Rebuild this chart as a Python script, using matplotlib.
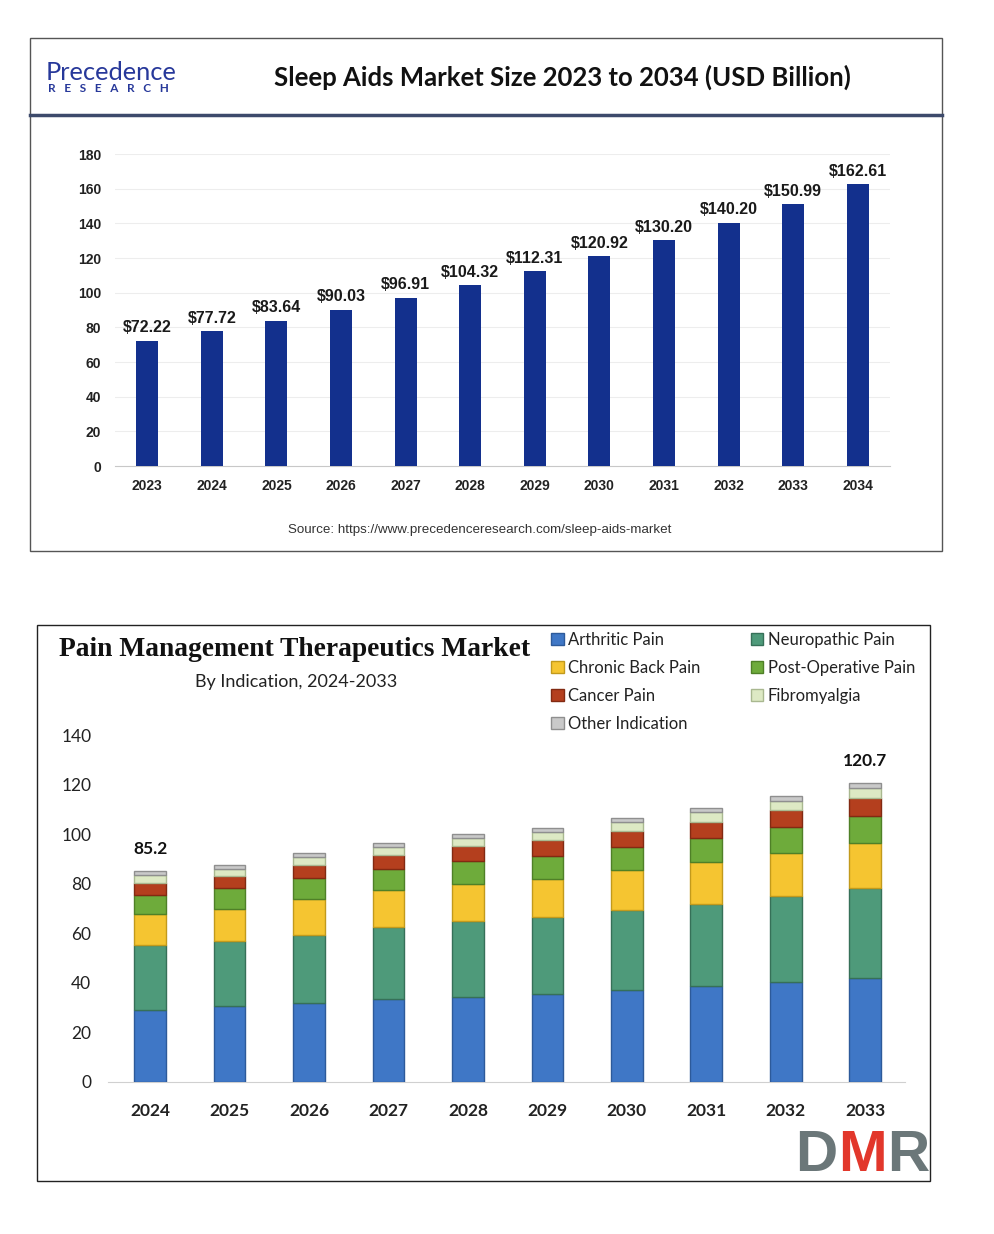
import matplotlib.pyplot as plt
from matplotlib.patches import Rectangle
from matplotlib.lines import Line2D

W, H = 994, 1234

# --- top chart data (Sleep Aids Market, USD Billion) ---
sleep_years = ['2023', '2024', '2025', '2026', '2027', '2028',
               '2029', '2030', '2031', '2032', '2033', '2034']
sleep_aids = [72.22, 77.72, 83.64, 90.03, 96.91, 104.32,
              112.31, 120.92, 130.20, 140.20, 150.99, 162.61]

# --- bottom chart data (Pain Management by indication) ---
pain_years = ['2024', '2025', '2026', '2027', '2028',
              '2029', '2030', '2031', '2032', '2033']
arthritic = [29.1, 30.5, 31.9, 33.5, 34.1, 35.6, 37.0, 38.6, 40.2, 41.9]
neuropathic = [26.1, 26.3, 27.6, 29.0, 30.9, 31.1, 32.4, 33.4, 34.8, 36.4]
chronic_back = [12.4, 13.2, 14.5, 15.0, 15.0, 15.4, 16.2, 16.8, 17.3, 18.3]
post_operative = [7.7, 8.1, 8.2, 8.6, 9.2, 9.2, 9.4, 9.6, 10.4, 10.8]
cancer = [5.1, 5.0, 5.4, 5.5, 6.1, 6.3, 6.2, 6.7, 7.0, 7.0]
fibromyalgia = [3.0, 2.7, 3.0, 3.3, 3.0, 3.1, 3.8, 3.7, 3.8, 4.1]
other = [1.8, 1.6, 1.7, 1.5, 1.7, 1.7, 1.6, 1.6, 1.8, 2.2]
labelled_totals = {0: '85.2', 9: '120.7'}

series = [
    ('Arthritic Pain', arthritic, '#3f77c6', '#2d5a9a'),
    ('Neuropathic Pain', neuropathic, '#4e9a7a', '#367058'),
    ('Chronic Back Pain', chronic_back, '#f5c531', '#c29a1c'),
    ('Post-Operative Pain', post_operative, '#6eab3b', '#4f8027'),
    ('Cancer Pain', cancer, '#b43f1e', '#822a12'),
    ('Fibromyalgia', fibromyalgia, '#dde9c4', '#a9b890'),
    ('Other Indication', other, '#c9c9c9', '#8f8f8f'),
]


def box(x0, y0, x1, y1):
    # pixel box (top-left origin) -> figure fraction rect
    return [x0 / W, 1 - y1 / H, (x1 - x0) / W, (y1 - y0) / H]


def fx(x):
    return x / W


def fy(y):
    return 1 - y / H


fig = plt.figure(figsize=(W / 100, H / 100), dpi=100)
fig.patch.set_facecolor('white')

# ================= top panel =================
fig.add_artist(Rectangle((fx(30), fy(551)), (942 - 30) / W, (551 - 38) / H,
                         transform=fig.transFigure, fill=False,
                         edgecolor='#555555', lw=1.0))
fig.add_artist(Line2D([fx(30), fx(942)], [fy(115), fy(115)],
                      transform=fig.transFigure, color='#3d4a6b', lw=2.5))

# logo
fig.text(fx(46), fy(72), 'Precedence', fontsize=18.3, color='#27389a',
         family='Lato', ha='left', va='center')
fig.text(fx(48), fy(89), 'R   E   S   E   A   R   C   H', fontsize=8.5,
         color='#27389a', family='Lato', fontweight='bold',
         ha='left', va='center')

fig.text(fx(562), fy(77), 'Sleep Aids Market Size 2023 to 2034 (USD Billion)',
         fontsize=18.5, fontweight='bold', family='Lato', ha='center',
         va='center', color='#111111')

ax1 = fig.add_axes(box(115, 154, 890, 466))
x1 = range(len(sleep_years))
ax1.bar(x1, sleep_aids, width=0.34, color='#13308d', zorder=3)
ax1.set_xlim(-0.5, len(sleep_years) - 0.5)
ax1.set_ylim(0, 180)
ax1.set_yticks(range(0, 181, 20))
ax1.set_xticks(list(x1))
ax1.set_xticklabels(sleep_years)
ax1.grid(axis='y', color='#ededed', lw=0.8, zorder=0)
for s in ['top', 'right', 'left']:
    ax1.spines[s].set_visible(False)
ax1.spines['bottom'].set_color('#c8c8c8')
ax1.tick_params(length=0, labelsize=10, pad=10, colors='#222222')
ax1.tick_params(axis='x', pad=9)
for lab in ax1.get_xticklabels() + ax1.get_yticklabels():
    lab.set_fontweight('bold')
    lab.set_family('Liberation Sans')
for i, v in enumerate(sleep_aids):
    ax1.annotate(f'${v:.2f}', (i, v), xytext=(0, 4), textcoords='offset points',
                 ha='center', va='bottom', fontsize=11.5, fontweight='bold',
                 family='Liberation Sans', color='#1a1a1a')

fig.text(fx(480), fy(530), 'Source: https://www.precedenceresearch.com/sleep-aids-market',
         fontsize=9.6, family='Liberation Sans', ha='center', va='center',
         color='#333333')

# ================= bottom panel =================
fig.add_artist(Rectangle((fx(37), fy(1181)), (930 - 37) / W, (1181 - 625) / H,
                         transform=fig.transFigure, fill=False,
                         edgecolor='#222222', lw=1.0))

fig.text(fx(295), fy(650), 'Pain Management Therapeutics Market',
         fontsize=19.8, fontweight='bold', family='Liberation Serif',
         ha='center', va='center', color='#111111')
fig.text(fx(296), fy(682), 'By Indication, 2024-2033', fontsize=13,
         family='Lato', ha='center', va='center', color='#222222')

ax2 = fig.add_axes(box(108, 735, 905, 1082))
x2 = range(len(pain_years))
bottom = [0.0] * len(pain_years)
handles = {}
for name, vals, col, edge in series:
    b = ax2.bar(x2, vals, bottom=bottom, width=0.40, color=col,
                edgecolor=edge, lw=1.0, label=name, zorder=3)
    handles[name] = b
    bottom = [a + c for a, c in zip(bottom, vals)]

for i, txt in labelled_totals.items():
    ax2.annotate(txt, (i, bottom[i]), xytext=(0, 10), textcoords='offset points',
                 ha='center', va='bottom', fontsize=12.5, fontweight='bold',
                 family='Lato', color='#111111')

ax2.set_xlim(-0.53, len(pain_years) - 0.5)
ax2.set_ylim(0, 140)
ax2.set_yticks(range(0, 141, 20))
ax2.set_xticks(list(x2))
ax2.set_xticklabels(pain_years)
for s in ['top', 'right', 'left']:
    ax2.spines[s].set_visible(False)
ax2.spines['bottom'].set_color('#d0d0d0')
ax2.tick_params(length=0, labelsize=12.5, colors='#222222')
ax2.tick_params(axis='y', pad=12)
ax2.tick_params(axis='x', pad=15)
for lab in ax2.get_yticklabels():
    lab.set_family('Lato')
for lab in ax2.get_xticklabels():
    lab.set_family('Lato')
    lab.set_fontweight('bold')

order = ['Arthritic Pain', 'Chronic Back Pain', 'Cancer Pain', 'Other Indication',
         'Neuropathic Pain', 'Post-Operative Pain', 'Fibromyalgia']
leg = fig.legend([handles[n] for n in order], order, ncol=2, loc='upper left',
                 bbox_to_anchor=(fx(551), fy(632)), frameon=False,
                 prop={'family': 'Lato', 'size': 12}, handlelength=0.75,
                 handleheight=0.75, handletextpad=0.25, labelspacing=0.72,
                 columnspacing=3.05, borderpad=0, borderaxespad=0)
for t in leg.get_texts():
    t.set_color('#222222')

# DMR logo
fig.text(fx(795), fy(1156), 'D', fontsize=42, fontweight='bold',
         family='Liberation Sans', color='#6b7779', ha='left', va='center')
fig.text(fx(838), fy(1156), 'M', fontsize=42, fontweight='bold',
         family='Liberation Sans', color='#e2372b', ha='left', va='center')
fig.text(fx(887), fy(1156), 'R', fontsize=42, fontweight='bold',
         family='Liberation Sans', color='#6b7779', ha='left', va='center')

fig.savefig('out.png', dpi=100)
